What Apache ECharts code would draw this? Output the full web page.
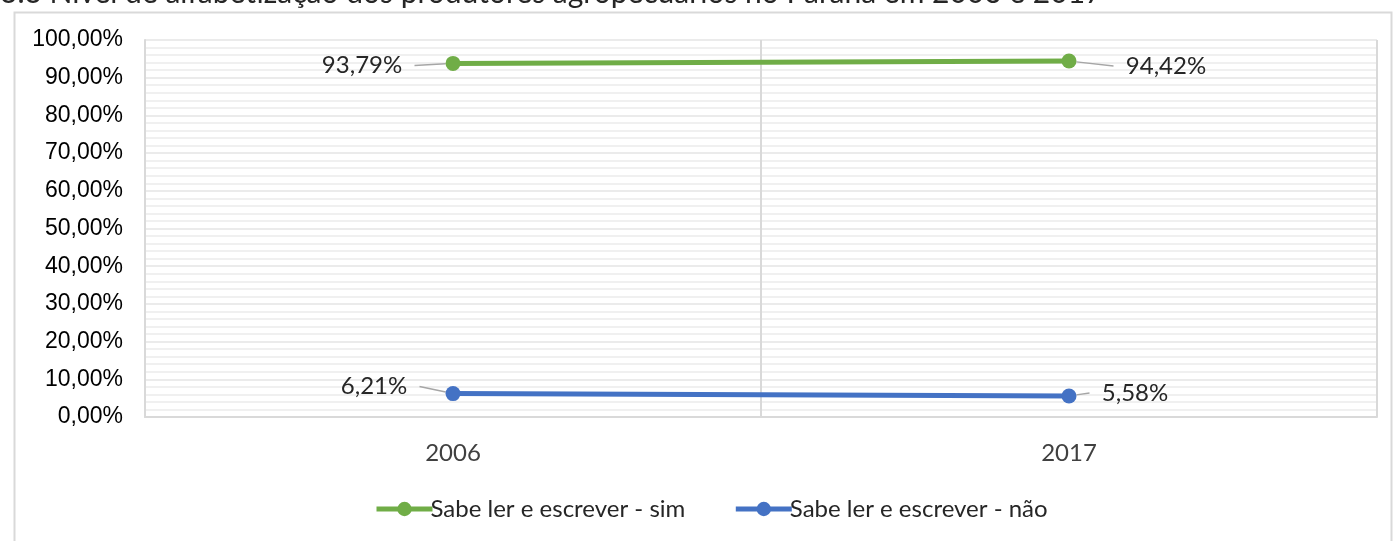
<!DOCTYPE html>
<html>
<head>
<meta charset="utf-8">
<script src="https://cdn.jsdelivr.net/npm/echarts@6/dist/echarts.min.js"></script>
<style>
  html, body { margin: 0; padding: 0; background: #ffffff; }
  #chart { width: 1400px; height: 541px; }
</style>
</head>
<body>
<div id="chart"></div>
<script>
// Literacy of agricultural producers in Paraná, 2006 vs 2017
const titleText = '3.3 Nível de alfabetização dos produtores agropecuários no Paraná em 2006 e 2017';
const years = ['2006', '2017'];
const seriesNames = ['Sabe ler e escrever - sim', 'Sabe ler e escrever - não'];
const simValues = [0.9379, 0.9442];
const naoValues = [0.0621, 0.0558];
const seriesColors = ['#70ad47', '#4472c4'];

const pct = v => (v * 100).toFixed(2).replace('.', ',') + '%';

const chart = echarts.init(document.getElementById('chart'), null, { renderer: 'canvas' });

const labelFont = { fontFamily: 'Lato', fontSize: 24, color: '#262626' };
// first point's label sits to the left, second point's to the right
const sides = ['left', 'right'];
// label offsets (leader-line length) per series / point
const labelDx = [[-23, 29], [-18, 5]];
const labelDy = [[2, 5], [-7, -3]];

function makeSeries(name, values, color, sIdx) {
  return {
    name: name,
    type: 'line',
    data: values.map((v, i) => ({ value: v, label: { position: sides[i] } })),
    symbol: 'circle',
    symbolSize: 15,
    lineStyle: { color: color, width: 5 },
    itemStyle: { color: color },
    label: {
      show: true,
      // keep a small gap between the text and its leader line
      formatter: p => sides[p.dataIndex] === 'left' ? pct(p.value) + '  ' : '  ' + pct(p.value),
      distance: 8,
      ...labelFont
    },
    labelLayout: p => ({
      dx: labelDx[sIdx][p.dataIndex],
      dy: labelDy[sIdx][p.dataIndex]
    }),
    labelLine: { show: true, lineStyle: { color: '#a6a6a6', width: 1.5 } },
    z: 3
  };
}

chart.setOption({
  animation: false,
  backgroundColor: '#ffffff',
  graphic: [
    {
      type: 'rect', left: 12, top: 10, silent: true,
      shape: { width: 1377, height: 560 },
      style: { fill: 'none', stroke: '#d9d9d9', lineWidth: 2 }
    },
    {
      type: 'text', left: 0, top: -22, silent: true,
      style: { text: titleText, fontFamily: 'Lato', fontSize: 30, fill: '#262626' }
    }
  ],
  grid: { left: 145, right: 23, top: 40, bottom: 124 },
  legend: {
    left: 369, bottom: 15,
    itemWidth: 56, itemHeight: 18, itemGap: 48,
    lineStyle: { width: 5 },
    textStyle: { fontFamily: 'Lato', fontSize: 24, color: '#262626', padding: [0, 0, 0, -7] },
    data: seriesNames
  },
  xAxis: {
    type: 'category',
    data: years,
    boundaryGap: true,
    axisLine: { show: true, lineStyle: { color: '#d9d9d9', width: 2 } },
    axisTick: { show: false },
    axisLabel: { margin: 24, fontFamily: 'Lato', fontSize: 24, color: '#404040' },
    splitLine: { show: true, lineStyle: { color: '#d9d9d9', width: 2 } }
  },
  yAxis: {
    type: 'value',
    min: 0, max: 1, interval: 0.1,
    axisLine: { show: true, lineStyle: { color: '#d9d9d9', width: 2 } },
    axisTick: { show: false },
    axisLabel: {
      formatter: v => pct(v),
      margin: 22,
      fontFamily: 'Liberation Sans', fontSize: 23, color: '#000000'
    },
    splitLine: { show: true, lineStyle: { color: '#ebebeb', width: 2 } },
    minorTick: { show: false, splitNumber: 5 },
    minorSplitLine: { show: true, lineStyle: { color: '#f0f0f0', width: 2 } }
  },
  series: [
    makeSeries(seriesNames[0], simValues, seriesColors[0], 0),
    makeSeries(seriesNames[1], naoValues, seriesColors[1], 1)
  ]
});
</script>
</body>
</html>
